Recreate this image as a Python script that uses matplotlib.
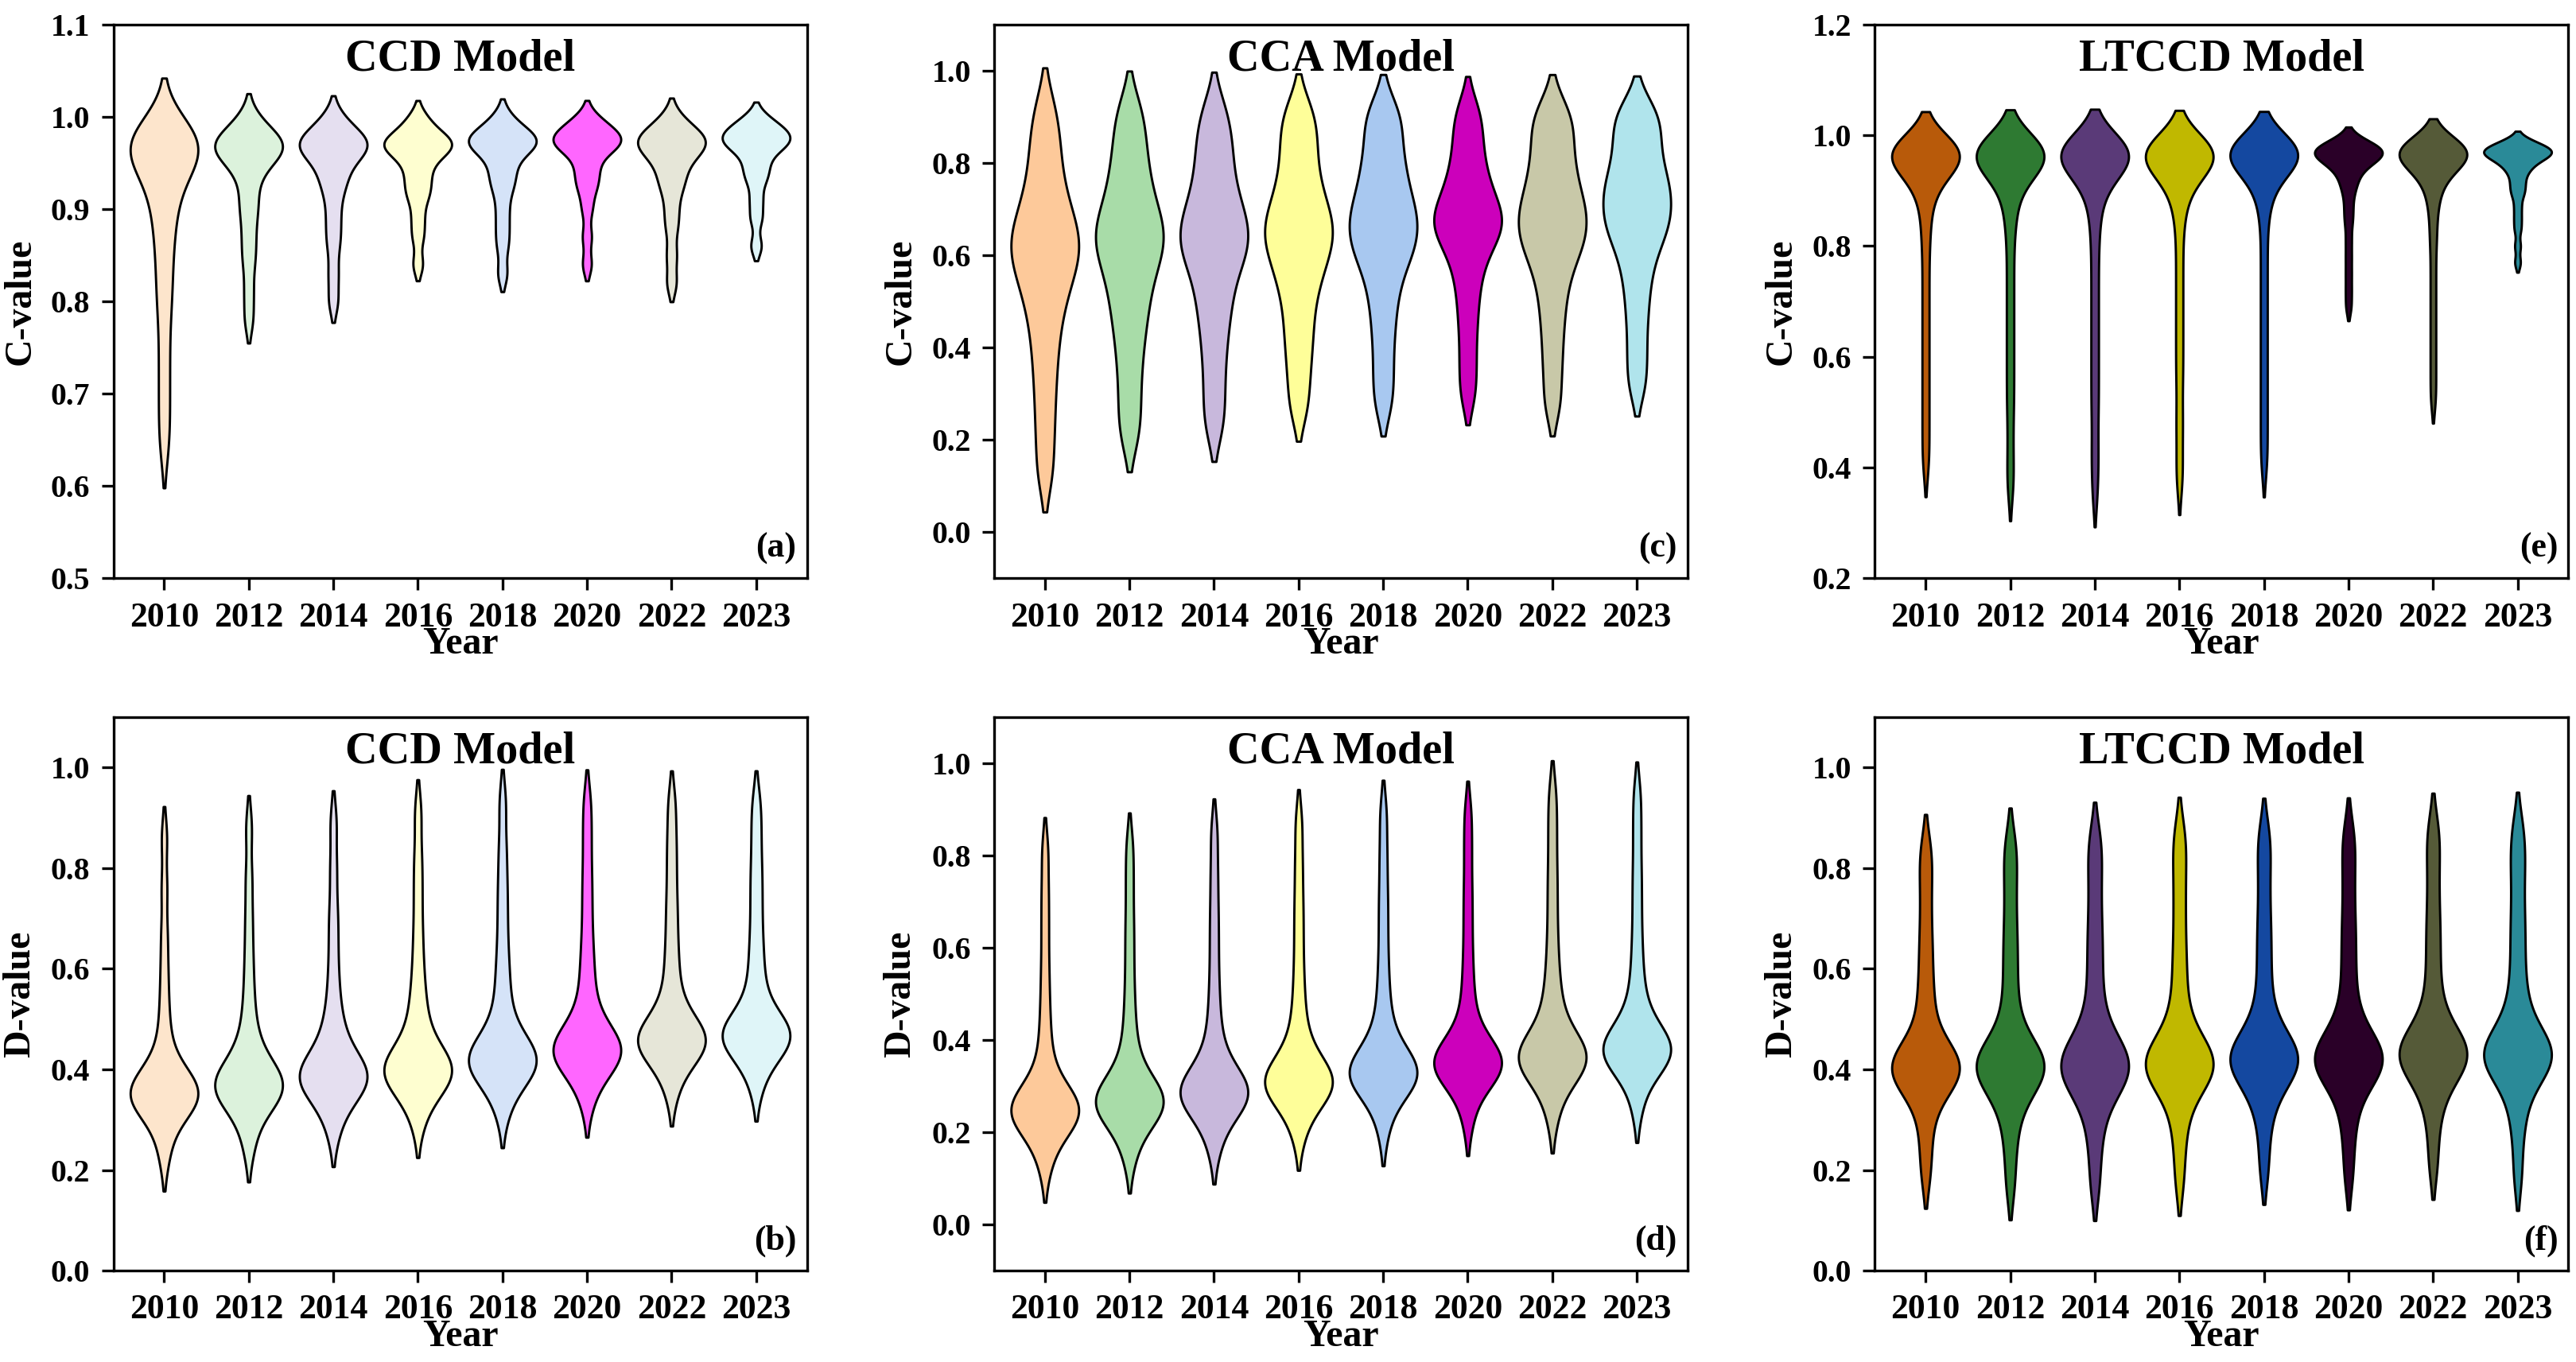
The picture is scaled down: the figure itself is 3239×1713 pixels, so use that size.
import numpy as np
import matplotlib.pyplot as plt

plt.rcParams['font.family'] = ['Liberation Serif', 'DejaVu Serif']
plt.rcParams['font.weight'] = 'bold'

years = ['2010', '2012', '2014', '2016', '2018', '2020', '2022', '2023']

ccd_c = [
    [0.64, 0.67, 0.70, 0.73, 0.76, 0.79, 0.81, 0.83, 0.85, 0.87, 0.88, 0.90, 0.91, 0.92, 0.93, 0.94, 0.95, 0.95, 0.96, 0.96, 0.96, 0.97, 0.97, 0.97, 0.97, 0.98, 0.98, 0.98, 0.99, 1.0],
    [0.78, 0.81, 0.84, 0.86, 0.88, 0.90, 0.91, 0.93, 0.94, 0.95, 0.96, 0.96, 0.96, 0.97, 0.97, 0.97, 0.97, 0.98, 0.98, 0.99, 1.0],
    [0.80, 0.83, 0.86, 0.88, 0.90, 0.92, 0.93, 0.94, 0.95, 0.96, 0.96, 0.97, 0.97, 0.97, 0.97, 0.98, 0.98, 0.99, 1.0],
    [0.84, 0.87, 0.89, 0.91, 0.92, 0.93, 0.94, 0.95, 0.96, 0.96, 0.97, 0.97, 0.97, 0.97, 0.98, 0.98, 0.99, 1.0],
    [0.83, 0.86, 0.88, 0.90, 0.92, 0.93, 0.94, 0.95, 0.96, 0.97, 0.97, 0.97, 0.97, 0.98, 0.98, 0.98, 0.99, 1.0],
    [0.84, 0.87, 0.90, 0.92, 0.93, 0.94, 0.95, 0.96, 0.97, 0.97, 0.97, 0.97, 0.98, 0.98, 0.98, 0.99, 0.99, 1.0],
    [0.82, 0.85, 0.88, 0.90, 0.92, 0.93, 0.94, 0.95, 0.96, 0.96, 0.97, 0.97, 0.97, 0.98, 0.98, 0.98, 0.99, 1.0],
    [0.86, 0.89, 0.91, 0.93, 0.94, 0.95, 0.96, 0.97, 0.97, 0.97, 0.98, 0.98, 0.98, 0.99, 0.99, 1.0],
]
ccd_d = [
    [0.22, 0.26, 0.29, 0.31, 0.32, 0.33, 0.33, 0.34, 0.34, 0.35, 0.35, 0.36, 0.36, 0.37, 0.37, 0.38, 0.39, 0.40, 0.42, 0.45, 0.49, 0.54, 0.60, 0.67, 0.76, 0.86],
    [0.24, 0.28, 0.31, 0.33, 0.34, 0.35, 0.35, 0.36, 0.36, 0.37, 0.37, 0.38, 0.38, 0.39, 0.40, 0.41, 0.43, 0.45, 0.48, 0.52, 0.57, 0.63, 0.70, 0.78, 0.88],
    [0.27, 0.31, 0.33, 0.35, 0.36, 0.37, 0.37, 0.38, 0.38, 0.39, 0.39, 0.40, 0.40, 0.41, 0.42, 0.44, 0.46, 0.48, 0.51, 0.55, 0.60, 0.66, 0.72, 0.80, 0.89],
    [0.29, 0.33, 0.35, 0.37, 0.38, 0.38, 0.39, 0.39, 0.40, 0.40, 0.41, 0.41, 0.42, 0.43, 0.45, 0.47, 0.50, 0.53, 0.57, 0.62, 0.68, 0.75, 0.82, 0.91],
    [0.31, 0.35, 0.37, 0.39, 0.40, 0.40, 0.41, 0.41, 0.42, 0.42, 0.43, 0.43, 0.44, 0.45, 0.47, 0.49, 0.52, 0.56, 0.60, 0.65, 0.71, 0.77, 0.84, 0.93],
    [0.33, 0.37, 0.39, 0.41, 0.42, 0.42, 0.43, 0.43, 0.44, 0.44, 0.45, 0.45, 0.46, 0.47, 0.49, 0.51, 0.54, 0.58, 0.62, 0.67, 0.73, 0.79, 0.86, 0.93],
    [0.35, 0.39, 0.41, 0.43, 0.44, 0.44, 0.45, 0.45, 0.46, 0.46, 0.47, 0.47, 0.48, 0.49, 0.51, 0.53, 0.56, 0.60, 0.64, 0.69, 0.74, 0.80, 0.86, 0.93],
    [0.36, 0.40, 0.42, 0.44, 0.45, 0.45, 0.46, 0.46, 0.47, 0.47, 0.48, 0.48, 0.49, 0.50, 0.52, 0.55, 0.58, 0.62, 0.66, 0.71, 0.76, 0.81, 0.87, 0.93],
]
cca_c = [
    [0.13, 0.22, 0.30, 0.37, 0.43, 0.48, 0.52, 0.55, 0.58, 0.60, 0.62, 0.64, 0.66, 0.69, 0.72, 0.76, 0.81, 0.86, 0.92],
    [0.21, 0.28, 0.35, 0.41, 0.46, 0.50, 0.54, 0.57, 0.60, 0.62, 0.64, 0.66, 0.68, 0.71, 0.74, 0.78, 0.82, 0.87, 0.92],
    [0.23, 0.30, 0.37, 0.43, 0.48, 0.52, 0.56, 0.59, 0.61, 0.63, 0.65, 0.67, 0.69, 0.72, 0.75, 0.79, 0.83, 0.87, 0.92],
    [0.27, 0.34, 0.40, 0.45, 0.50, 0.54, 0.57, 0.60, 0.62, 0.64, 0.66, 0.68, 0.70, 0.73, 0.76, 0.80, 0.84, 0.88, 0.92],
    [0.28, 0.35, 0.42, 0.48, 0.53, 0.57, 0.60, 0.62, 0.64, 0.66, 0.68, 0.70, 0.72, 0.75, 0.78, 0.81, 0.85, 0.89, 0.92],
    [0.30, 0.37, 0.44, 0.50, 0.55, 0.59, 0.62, 0.64, 0.66, 0.67, 0.68, 0.70, 0.72, 0.74, 0.77, 0.80, 0.84, 0.88, 0.92],
    [0.28, 0.36, 0.43, 0.49, 0.54, 0.58, 0.61, 0.63, 0.65, 0.67, 0.69, 0.71, 0.73, 0.76, 0.79, 0.82, 0.86, 0.89, 0.92],
    [0.32, 0.39, 0.46, 0.52, 0.57, 0.61, 0.64, 0.66, 0.68, 0.70, 0.72, 0.74, 0.76, 0.78, 0.81, 0.84, 0.87, 0.90, 0.92],
]
cca_d = [
    [0.12, 0.16, 0.19, 0.21, 0.22, 0.23, 0.23, 0.24, 0.24, 0.25, 0.25, 0.26, 0.26, 0.27, 0.28, 0.29, 0.31, 0.34, 0.38, 0.43, 0.49, 0.56, 0.64, 0.72, 0.81],
    [0.14, 0.18, 0.21, 0.23, 0.24, 0.25, 0.25, 0.26, 0.26, 0.27, 0.27, 0.28, 0.28, 0.29, 0.30, 0.32, 0.34, 0.37, 0.41, 0.46, 0.52, 0.59, 0.66, 0.74, 0.82],
    [0.16, 0.20, 0.23, 0.25, 0.26, 0.27, 0.27, 0.28, 0.28, 0.29, 0.29, 0.30, 0.30, 0.31, 0.32, 0.34, 0.36, 0.39, 0.43, 0.48, 0.54, 0.61, 0.68, 0.76, 0.85],
    [0.19, 0.23, 0.26, 0.28, 0.29, 0.29, 0.30, 0.30, 0.31, 0.31, 0.32, 0.32, 0.33, 0.34, 0.36, 0.38, 0.41, 0.45, 0.50, 0.56, 0.63, 0.70, 0.78, 0.87],
    [0.20, 0.25, 0.28, 0.30, 0.31, 0.31, 0.32, 0.32, 0.33, 0.33, 0.34, 0.34, 0.35, 0.36, 0.38, 0.40, 0.43, 0.47, 0.52, 0.58, 0.65, 0.72, 0.80, 0.89],
    [0.22, 0.27, 0.30, 0.32, 0.33, 0.33, 0.34, 0.34, 0.35, 0.35, 0.36, 0.36, 0.37, 0.38, 0.39, 0.41, 0.44, 0.48, 0.53, 0.59, 0.66, 0.73, 0.81, 0.89],
    [0.23, 0.28, 0.31, 0.33, 0.34, 0.35, 0.35, 0.36, 0.36, 0.37, 0.37, 0.38, 0.38, 0.40, 0.42, 0.45, 0.48, 0.52, 0.57, 0.63, 0.70, 0.77, 0.85, 0.93],
    [0.25, 0.30, 0.33, 0.35, 0.36, 0.36, 0.37, 0.37, 0.38, 0.38, 0.39, 0.39, 0.40, 0.41, 0.43, 0.45, 0.48, 0.52, 0.57, 0.63, 0.70, 0.77, 0.85, 0.93],
]
ltccd_c = [
    [0.40, 0.44, 0.48, 0.52, 0.56, 0.60, 0.64, 0.68, 0.72, 0.76, 0.80, 0.83, 0.86, 0.88, 0.90, 0.91, 0.92, 0.93, 0.94, 0.94, 0.95, 0.95, 0.95, 0.96, 0.96, 0.96, 0.96, 0.97, 0.97, 0.97, 0.97, 0.97, 0.97, 0.98, 0.98, 0.98, 0.98, 0.99, 0.99],
    [0.36, 0.40, 0.45, 0.50, 0.54, 0.58, 0.62, 0.66, 0.70, 0.74, 0.78, 0.82, 0.85, 0.87, 0.89, 0.91, 0.92, 0.93, 0.94, 0.94, 0.95, 0.95, 0.95, 0.96, 0.96, 0.96, 0.96, 0.97, 0.97, 0.97, 0.97, 0.97, 0.97, 0.98, 0.98, 0.98, 0.98, 0.99, 0.99],
    [0.35, 0.40, 0.44, 0.49, 0.53, 0.57, 0.61, 0.65, 0.69, 0.73, 0.77, 0.81, 0.84, 0.87, 0.89, 0.90, 0.92, 0.93, 0.94, 0.94, 0.95, 0.95, 0.95, 0.96, 0.96, 0.96, 0.96, 0.97, 0.97, 0.97, 0.97, 0.97, 0.97, 0.98, 0.98, 0.98, 0.98, 0.99, 0.99],
    [0.37, 0.41, 0.46, 0.50, 0.55, 0.59, 0.63, 0.67, 0.71, 0.75, 0.79, 0.83, 0.86, 0.88, 0.90, 0.91, 0.92, 0.93, 0.94, 0.94, 0.95, 0.95, 0.95, 0.96, 0.96, 0.96, 0.96, 0.97, 0.97, 0.97, 0.97, 0.97, 0.97, 0.98, 0.98, 0.98, 0.98, 0.99, 0.99],
    [0.40, 0.44, 0.48, 0.52, 0.56, 0.60, 0.64, 0.68, 0.72, 0.76, 0.80, 0.84, 0.87, 0.89, 0.90, 0.92, 0.93, 0.94, 0.94, 0.95, 0.95, 0.95, 0.96, 0.96, 0.96, 0.96, 0.97, 0.97, 0.97, 0.97, 0.97, 0.97, 0.98, 0.98, 0.98, 0.98, 0.99, 0.99, 0.99],
    [0.69, 0.72, 0.75, 0.78, 0.81, 0.84, 0.86, 0.88, 0.90, 0.91, 0.92, 0.93, 0.94, 0.94, 0.95, 0.95, 0.96, 0.96, 0.96, 0.96, 0.97, 0.97, 0.97, 0.97, 0.97, 0.97, 0.98, 0.98, 0.98, 0.98, 0.99, 0.99],
    [0.52, 0.56, 0.60, 0.64, 0.68, 0.72, 0.76, 0.80, 0.83, 0.86, 0.88, 0.90, 0.91, 0.92, 0.93, 0.94, 0.94, 0.95, 0.95, 0.95, 0.96, 0.96, 0.96, 0.96, 0.97, 0.97, 0.97, 0.97, 0.97, 0.97, 0.98, 0.98, 0.98, 0.98, 0.99, 0.99, 0.99],
    [0.77, 0.80, 0.83, 0.85, 0.87, 0.89, 0.90, 0.91, 0.92, 0.93, 0.94, 0.94, 0.95, 0.95, 0.96, 0.96, 0.96, 0.96, 0.97, 0.97, 0.97, 0.97, 0.97, 0.97, 0.98, 0.98, 0.98, 0.98, 0.99, 0.99],
]
ltccd_d = [
    [0.19, 0.25, 0.30, 0.34, 0.36, 0.37, 0.38, 0.39, 0.40, 0.40, 0.41, 0.41, 0.42, 0.43, 0.44, 0.46, 0.49, 0.53, 0.57, 0.62, 0.67, 0.73, 0.79, 0.84],
    [0.17, 0.24, 0.29, 0.33, 0.35, 0.37, 0.38, 0.39, 0.40, 0.40, 0.41, 0.42, 0.42, 0.43, 0.44, 0.46, 0.49, 0.53, 0.58, 0.63, 0.68, 0.74, 0.80, 0.85],
    [0.17, 0.24, 0.29, 0.33, 0.35, 0.37, 0.38, 0.39, 0.40, 0.40, 0.41, 0.42, 0.43, 0.44, 0.45, 0.47, 0.50, 0.54, 0.59, 0.64, 0.69, 0.75, 0.81, 0.86],
    [0.18, 0.25, 0.30, 0.34, 0.36, 0.38, 0.39, 0.40, 0.40, 0.41, 0.41, 0.42, 0.43, 0.44, 0.45, 0.47, 0.50, 0.54, 0.59, 0.64, 0.70, 0.76, 0.82, 0.87],
    [0.20, 0.27, 0.32, 0.35, 0.37, 0.39, 0.40, 0.41, 0.41, 0.42, 0.42, 0.43, 0.44, 0.45, 0.46, 0.48, 0.51, 0.55, 0.60, 0.65, 0.70, 0.76, 0.82, 0.87],
    [0.19, 0.26, 0.31, 0.35, 0.37, 0.39, 0.40, 0.41, 0.41, 0.42, 0.42, 0.43, 0.44, 0.45, 0.46, 0.48, 0.51, 0.55, 0.60, 0.65, 0.70, 0.76, 0.82, 0.87],
    [0.21, 0.28, 0.33, 0.36, 0.38, 0.40, 0.41, 0.42, 0.42, 0.43, 0.43, 0.44, 0.45, 0.46, 0.47, 0.49, 0.52, 0.56, 0.61, 0.66, 0.71, 0.77, 0.83, 0.88],
    [0.19, 0.27, 0.32, 0.36, 0.38, 0.40, 0.41, 0.42, 0.42, 0.43, 0.43, 0.44, 0.45, 0.46, 0.47, 0.50, 0.53, 0.57, 0.62, 0.67, 0.72, 0.78, 0.83, 0.88],
]

ccd_colors = ['#fde5cc', '#dcf2dc', '#e5dff0', '#fefed0', '#d5e3f8', '#ff66ff', '#e6e6d8', '#dff5f8']
cca_colors = ['#fdc99a', '#a8dca8', '#c8b8dc', '#fefe99', '#a8c8f0', '#cc00bb', '#c8c8a8', '#b0e4ec']
ltccd_colors = ['#b85a0a', '#2e7a32', '#5a3a78', '#c0b800', '#1448a0', '#2a0028', '#555a38', '#2a8a98']


def kde_stats(values, bw_factor=0.27, cut=1.5):
    """Gaussian KDE evaluated a little past the data, so the tips close."""
    v = np.asarray(values)
    bw = bw_factor * v.std(ddof=1)
    coords = np.linspace(v.min() - cut * bw, v.max() + cut * bw, 400)
    dens = np.exp(-0.5 * ((coords[:, None] - v[None, :]) / bw) ** 2).sum(axis=1)
    return dict(coords=coords, vals=dens, mean=v.mean(), median=np.median(v),
                min=v.min(), max=v.max())


def draw_panel(ax, data, colors, title, ylabel, tag, ylim, yticks, bw_factor=0.27):
    stats = [kde_stats(d, bw_factor) for d in data]
    parts = ax.violin(stats, positions=np.arange(len(years)), widths=0.8,
                      showmeans=False, showextrema=False, showmedians=False)
    for body, c in zip(parts['bodies'], colors):
        body.set_facecolor(c)
        body.set_edgecolor('black')
        body.set_linewidth(0.7)
        body.set_alpha(1)
    ax.set_xticks(np.arange(len(years)))
    ax.set_xticklabels(years, fontsize=10.5)
    ax.set_xlim(-0.6, len(years) - 0.4)
    ax.set_ylim(*ylim)
    ax.set_yticks(yticks)
    ax.tick_params(axis='y', labelsize=9.5)
    ax.set_xlabel("Year", fontsize=11.5, fontweight='bold', labelpad=-2)
    ax.set_ylabel(ylabel, fontsize=11.5, fontweight='bold')
    ax.text(0.5, 0.975, title, transform=ax.transAxes, ha='center', va='top',
            fontsize=13.5, fontweight='bold')
    ax.text(0.985, 0.025, tag, transform=ax.transAxes, ha='right', va='bottom',
            fontsize=10.5, fontweight='bold')


def main():
    fig, axes = plt.subplots(2, 3, figsize=(10.797, 5.71), dpi=300)
    draw_panel(axes[0, 0], ccd_c, ccd_colors, "CCD Model", "C-value", "(a)",
               (0.5, 1.1), np.arange(0.5, 1.11, 0.1))
    draw_panel(axes[1, 0], ccd_d, ccd_colors, "CCD Model", "D-value", "(b)",
               (0.0, 1.1), np.arange(0.0, 1.01, 0.2))
    draw_panel(axes[0, 1], cca_c, cca_colors, "CCA Model", "C-value", "(c)",
               (-0.1, 1.1), np.arange(0.0, 1.01, 0.2))
    draw_panel(axes[1, 1], cca_d, cca_colors, "CCA Model", "D-value", "(d)",
               (-0.1, 1.1), np.arange(0.0, 1.01, 0.2))
    draw_panel(axes[0, 2], ltccd_c, ltccd_colors, "LTCCD Model", "C-value", "(e)",
               (0.2, 1.2), np.arange(0.2, 1.21, 0.2), bw_factor=0.2)  # tighter tops
    draw_panel(axes[1, 2], ltccd_d, ltccd_colors, "LTCCD Model", "D-value", "(f)",
               (0.0, 1.1), np.arange(0.0, 1.01, 0.2))
    fig.subplots_adjust(left=0.044, right=0.997, top=0.982, bottom=0.067,
                        wspace=0.27, hspace=0.25)
    fig.savefig("out.png")
    plt.close(fig)


if __name__ == '__main__':
    main()
